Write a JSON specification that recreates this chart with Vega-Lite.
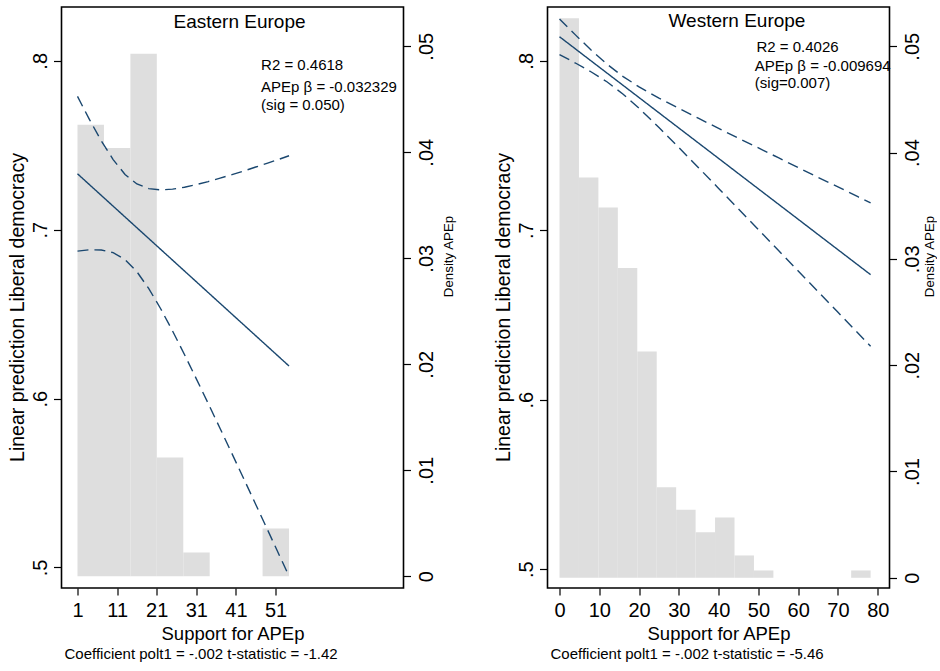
{
  "$schema": "https://vega.github.io/schema/vega-lite/v6.json",
  "padding": {"left": 5.5, "top": 6, "right": 0, "bottom": 0},
  "spacing": 35,
  "config": {
    "font": "Liberation Sans",
    "view": {"stroke": "#000000", "strokeWidth": 1.6},
    "axis": {"grid": false, "domain": false, "tickColor": "#000000", "tickWidth": 1.2, "labelColor": "#000000", "titleColor": "#000000", "titleFontWeight": "normal", "labelFontSize": 20, "labelOverlap": false, "labelFlush": false},
    "title": {"color": "#000000", "fontWeight": "normal"}
  },
  "datasets": {
    "east_hist": [
      {"x": 1, "x2": 7.675, "density": 0.0426},
      {"x": 7.675, "x2": 14.35, "density": 0.0404},
      {"x": 14.35, "x2": 21.025, "density": 0.0493},
      {"x": 21.025, "x2": 27.7, "density": 0.0112},
      {"x": 27.7, "x2": 34.375, "density": 0.00224},
      {"x": 34.375, "x2": 41.05, "density": 0},
      {"x": 41.05, "x2": 47.725, "density": 0},
      {"x": 47.725, "x2": 54.4, "density": 0.0045}
    ],
    "east_lines": [
      {"x": 1, "y": 0.7331, "series": "fit"},
      {"x": 54.4, "y": 0.6193, "series": "fit"},
      {"x": 1, "y": 0.7789, "series": "upper"},
      {"x": 4, "y": 0.7653, "series": "upper"},
      {"x": 7, "y": 0.7526, "series": "upper"},
      {"x": 10, "y": 0.7415, "series": "upper"},
      {"x": 13, "y": 0.7327, "series": "upper"},
      {"x": 16, "y": 0.7271, "series": "upper"},
      {"x": 19, "y": 0.7243, "series": "upper"},
      {"x": 22, "y": 0.7236, "series": "upper"},
      {"x": 25, "y": 0.724, "series": "upper"},
      {"x": 28, "y": 0.7251, "series": "upper"},
      {"x": 31, "y": 0.7267, "series": "upper"},
      {"x": 34, "y": 0.7285, "series": "upper"},
      {"x": 37, "y": 0.7305, "series": "upper"},
      {"x": 40, "y": 0.7326, "series": "upper"},
      {"x": 43, "y": 0.7348, "series": "upper"},
      {"x": 46, "y": 0.7371, "series": "upper"},
      {"x": 49, "y": 0.7394, "series": "upper"},
      {"x": 52, "y": 0.7418, "series": "upper"},
      {"x": 54.4, "y": 0.7438, "series": "upper"},
      {"x": 1, "y": 0.6873, "series": "lower"},
      {"x": 4, "y": 0.6881, "series": "lower"},
      {"x": 7, "y": 0.688, "series": "lower"},
      {"x": 10, "y": 0.6864, "series": "lower"},
      {"x": 13, "y": 0.6823, "series": "lower"},
      {"x": 16, "y": 0.6751, "series": "lower"},
      {"x": 19, "y": 0.6651, "series": "lower"},
      {"x": 22, "y": 0.6532, "series": "lower"},
      {"x": 25, "y": 0.64, "series": "lower"},
      {"x": 28, "y": 0.6261, "series": "lower"},
      {"x": 31, "y": 0.6117, "series": "lower"},
      {"x": 34, "y": 0.5971, "series": "lower"},
      {"x": 37, "y": 0.5823, "series": "lower"},
      {"x": 40, "y": 0.5674, "series": "lower"},
      {"x": 43, "y": 0.5524, "series": "lower"},
      {"x": 46, "y": 0.5373, "series": "lower"},
      {"x": 49, "y": 0.5222, "series": "lower"},
      {"x": 52, "y": 0.507, "series": "lower"},
      {"x": 54.4, "y": 0.4949, "series": "lower"}
    ],
    "west_hist": [
      {"x": 0, "x2": 4.8875, "density": 0.05264},
      {"x": 4.8875, "x2": 9.775, "density": 0.03766},
      {"x": 9.775, "x2": 14.6625, "density": 0.03484},
      {"x": 14.6625, "x2": 19.55, "density": 0.02913},
      {"x": 19.55, "x2": 24.4375, "density": 0.02129},
      {"x": 24.4375, "x2": 29.325, "density": 0.00852},
      {"x": 29.325, "x2": 34.2125, "density": 0.0064},
      {"x": 34.2125, "x2": 39.1, "density": 0.00429},
      {"x": 39.1, "x2": 43.9875, "density": 0.00567},
      {"x": 43.9875, "x2": 48.875, "density": 0.0021},
      {"x": 48.875, "x2": 53.7625, "density": 0.00069},
      {"x": 53.7625, "x2": 58.65, "density": 0},
      {"x": 58.65, "x2": 63.5375, "density": 0},
      {"x": 63.5375, "x2": 68.425, "density": 0},
      {"x": 68.425, "x2": 73.3125, "density": 0},
      {"x": 73.3125, "x2": 78.2, "density": 0.00069}
    ],
    "west_lines": [
      {"x": 0, "y": 0.8142, "series": "fit"},
      {"x": 78.2, "y": 0.6738, "series": "fit"},
      {"x": 0, "y": 0.8247, "series": "upper"},
      {"x": 4, "y": 0.8153, "series": "upper"},
      {"x": 8, "y": 0.8062, "series": "upper"},
      {"x": 12, "y": 0.7979, "series": "upper"},
      {"x": 16, "y": 0.7907, "series": "upper"},
      {"x": 20, "y": 0.7846, "series": "upper"},
      {"x": 25, "y": 0.778, "series": "upper"},
      {"x": 30, "y": 0.772, "series": "upper"},
      {"x": 35, "y": 0.766, "series": "upper"},
      {"x": 40, "y": 0.7601, "series": "upper"},
      {"x": 45, "y": 0.7543, "series": "upper"},
      {"x": 50, "y": 0.7486, "series": "upper"},
      {"x": 55, "y": 0.7428, "series": "upper"},
      {"x": 60, "y": 0.737, "series": "upper"},
      {"x": 65, "y": 0.7312, "series": "upper"},
      {"x": 70, "y": 0.7256, "series": "upper"},
      {"x": 75, "y": 0.7198, "series": "upper"},
      {"x": 78.2, "y": 0.7161, "series": "upper"},
      {"x": 0, "y": 0.8037, "series": "lower"},
      {"x": 4, "y": 0.7987, "series": "lower"},
      {"x": 8, "y": 0.7934, "series": "lower"},
      {"x": 12, "y": 0.7875, "series": "lower"},
      {"x": 16, "y": 0.7803, "series": "lower"},
      {"x": 20, "y": 0.772, "series": "lower"},
      {"x": 25, "y": 0.7606, "series": "lower"},
      {"x": 30, "y": 0.7488, "series": "lower"},
      {"x": 35, "y": 0.7368, "series": "lower"},
      {"x": 40, "y": 0.7247, "series": "lower"},
      {"x": 45, "y": 0.7125, "series": "lower"},
      {"x": 50, "y": 0.7004, "series": "lower"},
      {"x": 55, "y": 0.6882, "series": "lower"},
      {"x": 60, "y": 0.676, "series": "lower"},
      {"x": 65, "y": 0.6638, "series": "lower"},
      {"x": 70, "y": 0.6516, "series": "lower"},
      {"x": 75, "y": 0.6394, "series": "lower"},
      {"x": 78.2, "y": 0.6315, "series": "lower"}
    ]
  },
  "hconcat": [
    {
      "width": 342,
      "height": 581,
      "title": {"text": "Coefficient polt1 = -.002 t-statistic = -1.42", "orient": "bottom", "anchor": "start", "frame": "group", "fontSize": 15, "offset": 4, "dx": 3},
      "layer": [
        {
          "data": {"name": "east_hist"},
          "mark": {"type": "rect", "color": "#dedede"},
          "encoding": {
            "x": {"field": "x", "type": "quantitative", "scale": {"domain": [-3.04, 83.3], "nice": false, "zero": false},
              "axis": {"values": [1, 11, 21, 31, 41, 51], "tickSize": 7, "labelPadding": 5, "title": "Support for APEp", "titleFontSize": 18.5, "titleY": 51, "titleBaseline": "alphabetic"}},
            "x2": {"field": "x2"},
            "y": {"field": "density", "type": "quantitative", "scale": {"domain": [-0.00111, 0.0537], "nice": false, "zero": false},
              "axis": {"orient": "right", "values": [0, 0.01, 0.02, 0.03, 0.04, 0.05], "labelExpr": "datum.value == 0 ? '0' : replace(format(datum.value, '.2f'), '0.', '.')", "labelAngle": 270, "labelAlign": "center", "labelBaseline": "top", "tickSize": 7, "labelPadding": 6, "title": "Density APEp", "titleFontSize": 13.3, "titleAngle": 270, "titleAlign": "center", "titleBaseline": "alphabetic", "titleX": 49, "titleY": 249}},
            "y2": {"datum": 0}
          }
        },
        {
          "layer": [
            {
              "data": {"name": "east_lines"},
              "mark": {"type": "line", "color": "#1a476f", "strokeWidth": 1.4},
              "encoding": {
                "x": {"field": "x", "type": "quantitative", "scale": {"domain": [-3.04, 83.3], "nice": false, "zero": false}},
                "y": {"field": "y", "type": "quantitative", "scale": {"domain": [0.48786, 0.83185], "nice": false, "zero": false},
                  "axis": {"orient": "left", "values": [0.5, 0.6, 0.7, 0.8], "labelExpr": "replace(format(datum.value, '.1f'), '0.', '.')", "labelAngle": 270, "labelAlign": "center", "labelBaseline": "bottom", "tickSize": 8, "labelPadding": 3, "title": "Linear prediction Liberal democracy", "titleFontSize": 19.5, "titleAngle": 270, "titleAlign": "center", "titleBaseline": "bottom", "titleX": -34.3, "titleY": 300}},
                "strokeDash": {"field": "series", "type": "nominal", "scale": {"domain": ["fit", "upper", "lower"], "range": [[1, 0], [11, 6], [11, 6]]}, "legend": null}
              }
            },
            {
              "data": {"values": [{}]},
              "mark": {"type": "text", "text": "Eastern Europe", "fontSize": 19, "align": "center", "baseline": "alphabetic", "color": "#000000"},
              "encoding": {
                "x": {"datum": 41.91, "type": "quantitative", "scale": {"domain": [-3.04, 83.3], "nice": false, "zero": false}},
                "y": {"datum": 0.8195, "type": "quantitative", "scale": {"domain": [0.48786, 0.83185], "nice": false, "zero": false}}
              }
            },
            {
              "data": {"values": [{}]},
              "mark": {"type": "text", "text": "R2 = 0.4618", "fontSize": 15, "align": "left", "baseline": "alphabetic", "color": "#000000"},
              "encoding": {
                "x": {"datum": 47.34, "type": "quantitative", "scale": {"domain": [-3.04, 83.3], "nice": false, "zero": false}},
                "y": {"datum": 0.7943, "type": "quantitative", "scale": {"domain": [0.48786, 0.83185], "nice": false, "zero": false}}
              }
            },
            {
              "data": {"values": [{}]},
              "mark": {"type": "text", "text": "APEp β = -0.032329", "fontSize": 15, "align": "left", "baseline": "alphabetic", "color": "#000000"},
              "encoding": {
                "x": {"datum": 47.34, "type": "quantitative", "scale": {"domain": [-3.04, 83.3], "nice": false, "zero": false}},
                "y": {"datum": 0.7814, "type": "quantitative", "scale": {"domain": [0.48786, 0.83185], "nice": false, "zero": false}}
              }
            },
            {
              "data": {"values": [{}]},
              "mark": {"type": "text", "text": "(sig = 0.050)", "fontSize": 15, "align": "left", "baseline": "alphabetic", "color": "#000000"},
              "encoding": {
                "x": {"datum": 47.34, "type": "quantitative", "scale": {"domain": [-3.04, 83.3], "nice": false, "zero": false}},
                "y": {"datum": 0.7706, "type": "quantitative", "scale": {"domain": [0.48786, 0.83185], "nice": false, "zero": false}}
              }
            }
          ]
        }
      ],
      "resolve": {"scale": {"y": "independent"}}
    },
    {
      "width": 342,
      "height": 581,
      "title": {"text": "Coefficient polt1 = -.002 t-statistic = -5.46", "orient": "bottom", "anchor": "start", "frame": "group", "fontSize": 15, "offset": 4, "dx": 3},
      "layer": [
        {
          "data": {"name": "west_hist"},
          "mark": {"type": "rect", "color": "#dedede"},
          "encoding": {
            "x": {"field": "x", "type": "quantitative", "scale": {"domain": [-3.02, 82.95], "nice": false, "zero": false},
              "axis": {"values": [0, 10, 20, 30, 40, 50, 60, 70, 80], "tickSize": 7, "labelPadding": 5, "title": "Support for APEp", "titleFontSize": 18.5, "titleY": 51, "titleBaseline": "alphabetic"}},
            "x2": {"field": "x2"},
            "y": {"field": "density", "type": "quantitative", "scale": {"domain": [-0.00096, 0.05369], "nice": false, "zero": false},
              "axis": {"orient": "right", "values": [0, 0.01, 0.02, 0.03, 0.04, 0.05], "labelExpr": "datum.value == 0 ? '0' : replace(format(datum.value, '.2f'), '0.', '.')", "labelAngle": 270, "labelAlign": "center", "labelBaseline": "top", "tickSize": 7, "labelPadding": 6, "title": "Density APEp", "titleFontSize": 13.3, "titleAngle": 270, "titleAlign": "center", "titleBaseline": "alphabetic", "titleX": 43.5, "titleY": 249}},
            "y2": {"datum": 0}
          }
        },
        {
          "layer": [
            {
              "data": {"name": "west_lines"},
              "mark": {"type": "line", "color": "#1a476f", "strokeWidth": 1.4},
              "encoding": {
                "x": {"field": "x", "type": "quantitative", "scale": {"domain": [-3.02, 82.95], "nice": false, "zero": false}},
                "y": {"field": "y", "type": "quantitative", "scale": {"domain": [0.48891, 0.83175], "nice": false, "zero": false},
                  "axis": {"orient": "left", "values": [0.5, 0.6, 0.7, 0.8], "labelExpr": "replace(format(datum.value, '.1f'), '0.', '.')", "labelAngle": 270, "labelAlign": "center", "labelBaseline": "bottom", "tickSize": 8, "labelPadding": 3, "title": "Linear prediction Liberal democracy", "titleFontSize": 19.5, "titleAngle": 270, "titleAlign": "center", "titleBaseline": "bottom", "titleX": -34.3, "titleY": 300}},
                "strokeDash": {"field": "series", "type": "nominal", "scale": {"domain": ["fit", "upper", "lower"], "range": [[1, 0], [11, 6], [11, 6]]}, "legend": null}
              }
            },
            {
              "data": {"values": [{}]},
              "mark": {"type": "text", "text": "Western Europe", "fontSize": 19, "align": "center", "baseline": "alphabetic", "color": "#000000"},
              "encoding": {
                "x": {"datum": 44.6, "type": "quantitative", "scale": {"domain": [-3.02, 82.95], "nice": false, "zero": false}},
                "y": {"datum": 0.8202, "type": "quantitative", "scale": {"domain": [0.48891, 0.83175], "nice": false, "zero": false}}
              }
            },
            {
              "data": {"values": [{}]},
              "mark": {"type": "text", "text": "R2 = 0.4026", "fontSize": 15, "align": "left", "baseline": "alphabetic", "color": "#000000"},
              "encoding": {
                "x": {"datum": 49.5, "type": "quantitative", "scale": {"domain": [-3.02, 82.95], "nice": false, "zero": false}},
                "y": {"datum": 0.8051, "type": "quantitative", "scale": {"domain": [0.48891, 0.83175], "nice": false, "zero": false}}
              }
            },
            {
              "data": {"values": [{}]},
              "mark": {"type": "text", "text": "APEp β = -0.009694", "fontSize": 15, "align": "left", "baseline": "alphabetic", "color": "#000000"},
              "encoding": {
                "x": {"datum": 49.1, "type": "quantitative", "scale": {"domain": [-3.02, 82.95], "nice": false, "zero": false}},
                "y": {"datum": 0.7937, "type": "quantitative", "scale": {"domain": [0.48891, 0.83175], "nice": false, "zero": false}}
              }
            },
            {
              "data": {"values": [{}]},
              "mark": {"type": "text", "text": "(sig=0.007)", "fontSize": 15, "align": "left", "baseline": "alphabetic", "color": "#000000"},
              "encoding": {
                "x": {"datum": 49.1, "type": "quantitative", "scale": {"domain": [-3.02, 82.95], "nice": false, "zero": false}},
                "y": {"datum": 0.7841, "type": "quantitative", "scale": {"domain": [0.48891, 0.83175], "nice": false, "zero": false}}
              }
            }
          ]
        }
      ],
      "resolve": {"scale": {"y": "independent"}}
    }
  ]
}
